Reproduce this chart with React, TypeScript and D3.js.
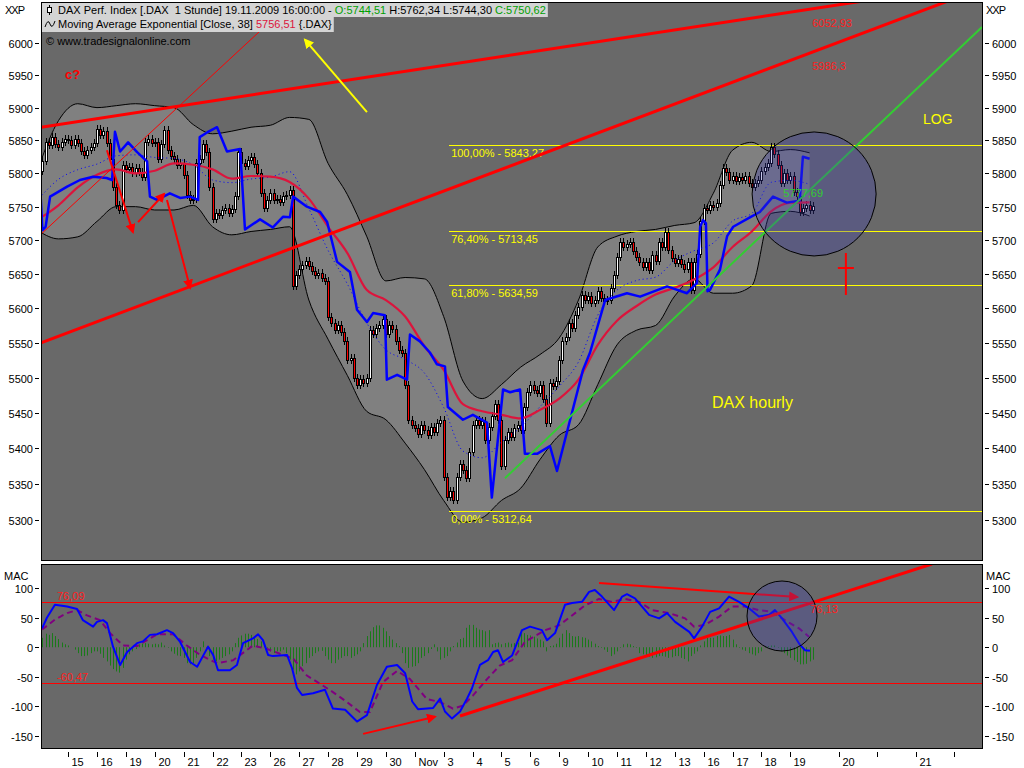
import React, { useLayoutEffect, useRef, useState } from 'react';
import * as d3 from 'd3';

// hourly closes of the DAX, 9 bars a day (9:00-17:00); first row starts 14 Oct 10:00
const firstOpen = 5803;
const closes = [
  5818, 5848, 5843, 5855, 5845, 5840, 5848, 5852, // 14 Oct
  5850, 5843, 5852, 5846, 5834, 5828, 5836, 5840, 5846, // 15
  5868, 5858, 5864, 5846, 5822, 5780, 5752, 5745, 5812, // 16
  5806, 5810, 5800, 5808, 5802, 5795, 5848, 5852, 5846, // 19
  5848, 5822, 5845, 5866, 5836, 5826, 5822, 5812, 5815, // 20
  5798, 5768, 5760, 5762, 5815, 5822, 5845, 5833, 5780, // 21
  5732, 5741, 5738, 5745, 5748, 5741, 5747, 5766, 5832, // 22
  5816, 5811, 5820, 5824, 5814, 5800, 5770, 5748, 5760, // 23
  5770, 5760, 5762, 5757, 5766, 5768, 5775, 5632, 5648, // 26
  5658, 5664, 5670, 5662, 5655, 5648, 5652, 5645, 5640, // 27
  5588, 5578, 5568, 5575, 5565, 5552, 5525, 5528, 5500, // 28
  5490, 5498, 5492, 5500, 5568, 5563, 5572, 5576, 5585, // 29
  5562, 5575, 5570, 5552, 5540, 5535, 5490, 5440, 5432, // 30
  5428, 5420, 5432, 5425, 5418, 5430, 5422, 5435, 5440, // 2 Nov
  5360, 5332, 5340, 5328, 5360, 5378, 5370, 5358, 5395, // 3
  5432, 5440, 5432, 5438, 5412, 5430, 5445, 5462, 5440, // 4
  5375, 5412, 5422, 5415, 5428, 5432, 5425, 5458, 5480, // 5
  5490, 5482, 5478, 5490, 5470, 5435, 5492, 5488, 5495, // 6
  5525, 5552, 5558, 5578, 5572, 5590, 5602, 5620, 5612, // 9
  5618, 5608, 5612, 5625, 5615, 5610, 5612, 5630, 5648, // 10
  5675, 5697, 5690, 5695, 5697, 5684, 5675, 5668, 5660, // 11
  5668, 5656, 5678, 5670, 5698, 5690, 5712, 5686, 5674, // 12
  5666, 5672, 5665, 5658, 5668, 5626, 5668, 5680, 5728, // 13
  5748, 5745, 5752, 5750, 5756, 5782, 5808, 5802, 5790, // 16
  5796, 5788, 5795, 5790, 5796, 5786, 5780, 5785, 5790, // 17
  5803, 5810, 5816, 5840, 5830, 5812, 5786, 5800, 5790, // 18
  5796, 5772, 5766, 5742, 5748, 5752, 5744.51, 5750.62, // 19
];

const dayLabels = ['15', '16', '19', '20', '21', '22', '23', '26', '27', '28', '29', '30', 'Nov',
  '3', '4', '5', '6', '9', '10', '11', '12', '13', '16', '17', '18', '19'];
// beyond the last bar the axis runs on calendar hours
const futureTicks: [number, string][] = [[249, '20'], [261, ''], [273, '21'], [285, '']];

// Bollinger bands and EMA(38), read every 6 bars
const upperBand = [5812, 5880, 5906, 5900, 5903, 5906, 5903, 5900, 5874, 5860, 5864, 5870, 5873, 5885,
  5882, 5815, 5768, 5706, 5640, 5645, 5643, 5588, 5495, 5470, 5490, 5515, 5533, 5557, 5612, 5690,
  5706, 5713, 5716, 5722, 5726, 5770, 5835, 5847, 5833, 5836, 5831];
const lowerBand = [5713, 5702, 5705, 5728, 5750, 5750, 5745, 5745, 5752, 5720, 5708, 5713, 5716, 5720,
  5612, 5555, 5503, 5452, 5440, 5407, 5370, 5327, 5297, 5303, 5327, 5344, 5384, 5418, 5433, 5490,
  5547, 5568, 5575, 5618, 5643, 5622, 5622, 5633, 5740, 5743, 5736];
const ema38 = [5732, 5752, 5779, 5798, 5806, 5800, 5804, 5815, 5813, 5806, 5792, 5796, 5795, 5787,
  5762, 5720, 5681, 5627, 5612, 5588, 5545, 5511, 5462, 5452, 5447, 5442, 5454, 5470, 5497, 5547,
  5582, 5603, 5620, 5630, 5642, 5660, 5690, 5713, 5743, 5756, 5756.51];
const bandStep = 6;

// blue indicator line: [bar, price]
const blueLine: [number, number][] = [
  [0, 5808], [1, 5715], [2, 5720], [3.4, 5765], [8.7, 5780], [12.7, 5790], [16.8, 5795], [21, 5793],
  [22.7, 5790], [23.6, 5863], [25.2, 5833], [27.7, 5847], [30.5, 5832], [33.6, 5818], [34.5, 5765],
  [36.7, 5760], [40.7, 5770], [43.9, 5763], [47, 5765], [49.5, 5760], [50, 5855], [52.3, 5862],
  [55.4, 5870], [58.5, 5833], [62.6, 5837], [64.1, 5716], [68.8, 5731], [72.8, 5719], [76, 5735],
  [78.1, 5734], [79.1, 5765], [83.4, 5750], [87.5, 5742], [89.7, 5727], [92.8, 5668], [96.8, 5653],
  [99, 5598], [102.1, 5580], [104, 5593], [107.7, 5590], [108.3, 5497], [111.5, 5504], [114.6, 5497],
  [115.5, 5562], [118.6, 5552], [121.7, 5536], [123.9, 5519], [126.4, 5516], [127.3, 5458], [132, 5440],
  [135.1, 5447], [139.5, 5436], [141, 5331], [144.5, 5483], [146.7, 5479], [149.8, 5483], [151.3, 5392],
  [155.1, 5392], [159.1, 5403], [161.3, 5368], [165.4, 5440], [169.4, 5511], [171.6, 5536], [176.3, 5612],
  [183.1, 5622], [187.2, 5617], [195.6, 5632], [201.8, 5622], [204.9, 5637], [205.9, 5720], [206.8, 5730],
  [207.7, 5725], [208.2, 5625], [209, 5627], [212.1, 5657], [214.3, 5706], [216.2, 5720], [221.4, 5734],
  [224.5, 5742], [228.6, 5765], [232.9, 5756], [236.9, 5759], [237.9, 5825], [240, 5822],
];

const fibLevels: [string, number][] = [
  ['100,00% - 5843,27', 5843.27], ['76,40% - 5713,45', 5713.45],
  ['61,80% - 5634,59', 5634.59], ['0,00% - 5312,64', 5312.64],
];
const fibStart = 127.7;

// MACD panel: [bar, value]
const macdLine: [number, number][] = [
  [0.9, 32], [2.4, 50], [4.9, 72], [8.7, 69], [11.8, 65], [13.6, 46], [16.8, 35], [18, 43], [19.9, 46],
  [21.1, 41], [23, 1], [25.2, -30], [27.4, -8], [30.5, 7], [32.3, 10], [34.5, 21], [36.7, 22], [39.8, 29],
  [41.7, 24], [43.9, 9], [47, -25], [49.2, -33], [51, -15], [52.6, 1], [54.2, -13], [55.7, -39], [59.4, -39],
  [61.6, -30], [63.5, 7], [66.6, 15], [68.2, 22], [69.7, 12], [71.3, -13], [72.8, -15], [77.2, -13],
  [78.8, -36], [80.3, -69], [81.9, -81], [85.3, -78], [89, -72], [91.5, -104], [95.3, -106], [99, -126],
  [102.1, -115], [105.2, -64], [108.3, -33], [111.5, -30], [114, -44], [116.2, -92], [118, -105],
  [122.7, -103], [124.9, -87], [126.4, -109], [128.6, -121], [131.1, -109], [133.3, -87], [134.8, -70],
  [137.3, -30], [139.8, -22], [141.4, -8], [142.9, -5], [144.5, -25], [147.3, -14], [150.4, 29],
  [152.9, 35], [156.6, 29], [158.2, 12], [160.7, 24], [163.8, 72], [166, 75], [169.1, 77], [171.3, 94],
  [173.1, 97], [175.3, 86], [179.1, 63], [181.6, 86], [183.1, 90], [185.6, 83], [190, 55], [193.1, 49],
  [195.6, 58], [198.1, 43], [202.5, 26], [204, 15], [206.5, 35], [209, 60], [211.8, 66], [214.9, 86],
  [218, 77], [221.1, 66], [224.2, 52], [227.4, 55], [229.2, 63], [231.4, 49], [234.5, 26], [237, 4],
  [238.6, -5], [240.1, -6],
];
const signalLine: [number, number][] = [
  [0.9, 30], [4.9, 47], [8.7, 58], [11.8, 63], [14.9, 54], [18.9, 46], [22.1, 24], [26.1, 3], [30.5, 2],
  [36.7, 22], [41.7, 22], [46, 3], [50.1, -13], [55.4, -27], [60.4, -22], [66.6, 3], [71, -3], [75, -11],
  [79.1, -19], [83.4, -48], [87.5, -62], [91.5, -76], [95.9, -93], [99.9, -110], [103, -110], [107.1, -59],
  [111.5, -40], [115.5, -54], [120.8, -88], [124.9, -93], [128.9, -104], [132, -99], [135.1, -82],
  [139.5, -54], [143.5, -31], [147.3, -22], [151.3, 9], [157.6, 29], [161.9, 37], [166, 54], [170, 71],
  [174.4, 82], [178.4, 77], [182.5, 82], [186.9, 77], [190.9, 63], [196.2, 58], [201.2, 49], [204, 35],
  [207.4, 38], [211.8, 52], [215.8, 69], [219.9, 69], [224.2, 63], [228.3, 60], [232.3, 46],
  [236.7, 32], [239.8, 18],
];
// histogram, one value per bar from bar 0
const histogram = [
  7, 16, 23, 21, 24, 19, 14, 8, 5,
  3, 0, -4, -10, -15, -15, -14, -10, -7,
  -7, -11, -18, -24, -31, -37, -41, -43, -35,
  -21, -12, -7, -3, 5, 6, 7, 6, 5,
  6, 5, 8, 3, -1, -7, -11, -14, -15,
  -18, -27, -29, -27, -18, -7, 10, -1, -15,
  -21, -24, -21, -18, -15, -12, -7, 7, 16,
  20, 23, 23, 21, 19, 14, 10, 6, -1,
  -7, -10, -7, -7, -4, -10, -21, -38, -46,
  -41, -32, -27, -18, -15, -10, -7, -6, -15,
  -21, -27, -27, -21, -18, -15, -15, -18, -15,
  -12, -7, 7, 19, 27, 34, 37, 37, 33,
  27, 19, 13, 7, 2, -10, -27, -35, -33,
  -32, -27, -18, -15, -10, -3, 5, -7, -21,
  -18, -15, -7, 2, 8, 14, 16, 33, 38,
  38, 33, 30, 29, 27, 29, 5, 7, 8,
  5, 7, 8, 6, 7, 8, 24, 24, 21,
  20, 18, 15, 13, 10, -7, 2, 3, 6,
  16, 23, 29, 24, 19, 18, 19, 17, 16,
  13, 10, 6, 2, -1, -4, -8, -15, -12,
  -7, -1, 5, 6, 5, 2, -1, -10, -12,
  -15, -16, -18, -17, -15, -15, -16, -18, -17,
  -15, -15, -18, -20, -24, -15, -11, -7, 3,
  10, 16, 16, 16, 19, 20, 19, 19, 21,
  13, 5, -1, -4, -6, -10, -12, -14, -10,
  -7, -1, 2, 3, 3, -1, -7, -10, -14,
  -18, -22, -25, -29, -29, -28, -24, -21,
];
const macdBands = [76.09, -60.47];

// drawn annotations, in [bar, price] / [bar, macd]
const redTrends: [number, number, number, number][] = [[0.56, 5870, 258.2, 6067], [0.56, 5550, 283.7, 6067]];
const thinTrend: [number, number, number, number] = [0.56, 5709, 79.1, 6067];
const greenTrend: [number, number, number, number] = [145.1, 5358, 293.7, 6025];
const redArrows: [number, number, number, number][] = [
  [21.1, 5835, 29.2, 5712], [30.8, 5727, 38.9, 5769], [39.8, 5760, 47.0, 5630],
];
const yellowArrow: [number, number, number, number] = [102.1, 5893, 82.8, 6005];
const macdTrend: [number, number, number, number] = [131.1, -116.6, 278.1, 141.2];
const macdArrows: [number, number, number, number][] = [[100.9, -146.9, 123.3, -118], [174.4, 109, 236.1, 85.2]];

const priceTicks = d3.range(5300, 6001, 50);
const macdTicks = [100, 50, 0, -50, -100, -150];

const FONT = "'Liberation Sans', Arial, sans-serif";
const BG = '#696969';

export default function App() {
  const l1 = useRef<SVGTextElement>(null);
  const l2 = useRef<SVGTextElement>(null);
  const [boxW, setBoxW] = useState<[number, number]>([480, 270]);
  useLayoutEffect(() => {
    if (l1.current && l2.current) {
      setBoxW([l1.current.getComputedTextLength() + 18, l2.current.getComputedTextLength() + 18]);
    }
  }, []);

  const L = 41, R = 982, T = 2, B = 560, MT = 564, MB = 748;
  const x = d3.scaleLinear().domain([0.56, 293.7]).range([L, R]);
  const y = d3.scaleLog().domain([5300, 6000]).range([520, 43]);
  const ym = d3.scaleLinear().domain([-150, 100]).range([735.7, 588.3]);

  const px = (s: number) => Math.round(x(s));

  const bandData = upperBand.map((u, i) => ({ s: i * bandStep, u, l: lowerBand[i], e: ema38[i] }));
  const bandArea = d3.area<typeof bandData[0]>().x(d => x(d.s)).y0(d => y(d.l)).y1(d => y(d.u)).curve(d3.curveMonotoneX);
  const upperPath = d3.line<typeof bandData[0]>().x(d => x(d.s)).y(d => y(d.u)).curve(d3.curveMonotoneX);
  const lowerPath = d3.line<typeof bandData[0]>().x(d => x(d.s)).y(d => y(d.l)).curve(d3.curveMonotoneX);
  const midPath = d3.line<typeof bandData[0]>().x(d => x(d.s)).y(d => y((d.u + d.l) / 2)).curve(d3.curveMonotoneX);
  const emaPath = d3.line<typeof bandData[0]>().x(d => x(d.s)).y(d => y(d.e)).curve(d3.curveMonotoneX);
  const pLine = d3.line<[number, number]>().x(d => x(d[0])).y(d => y(d[1]));
  const mLine = d3.line<[number, number]>().x(d => x(d[0])).y(d => ym(d[1]));

  const seg = (a: [number, number, number, number], sy: (v: number) => number) =>
    ({ x1: x(a[0]), y1: sy(a[1]), x2: x(a[2]), y2: sy(a[3]) });

  const candles = closes.map((c, i) => {
    const s = i + 1;
    const o = i === 0 ? firstOpen : closes[i - 1];
    const top = Math.round(y(Math.max(o, c)));
    const bot = Math.max(top + 1, Math.round(y(Math.min(o, c))));
    return { s, up: c >= o, top, bot, cx: px(s) };
  });

  const dayTicks: [number, string][] = dayLabels.map((d, k) => [9 * (k + 1), d]);
  const allTicks = [...dayTicks, ...futureTicks];

  return (
    <>
      <style>{'body{margin:0;background:#fff}'}</style>
      <svg width={1024} height={768} style={{ display: 'block' }} fontFamily={FONT} fontSize={11}>
        <defs>
          <clipPath id="mainClip"><rect x={L} y={T} width={R - L} height={B - T} /></clipPath>
          <clipPath id="macdClip"><rect x={L} y={MT} width={R - L} height={MB - MT} /></clipPath>
          <marker id="ahRed" viewBox="0 0 10 10" refX="8" refY="5" markerWidth="5" markerHeight="5" orient="auto">
            <path d="M0,0 L10,5 L0,10 z" fill="#ff0000" />
          </marker>
          <marker id="ahYel" viewBox="0 0 10 10" refX="8" refY="5" markerWidth="5" markerHeight="5" orient="auto">
            <path d="M0,0 L10,5 L0,10 z" fill="#ffff00" />
          </marker>
        </defs>

        {/* main panel */}
        <rect x={L} y={T} width={R - L} height={B - T} fill={BG} />
        <g clipPath="url(#mainClip)">
          <path d={bandArea(bandData) ?? ''} fill="#808080" />
          <path d={upperPath(bandData) ?? ''} fill="none" stroke="#000" strokeWidth={1} />
          <path d={lowerPath(bandData) ?? ''} fill="none" stroke="#000" strokeWidth={1} />

          {fibLevels.map(([lab, v]) => (
            <g key={lab}>
              <line x1={x(fibStart)} x2={R} y1={Math.round(y(v)) + 0.5} y2={Math.round(y(v)) + 0.5}
                stroke="#ffff00" strokeWidth={1} shapeRendering="crispEdges" />
              <text x={x(fibStart) + 2} y={Math.round(y(v)) + 12} fill="#ffff00">{lab}</text>
            </g>
          ))}

          {candles.map(c => (
            <g key={c.s} shapeRendering="crispEdges">
              <line x1={c.cx + 0.5} x2={c.cx + 0.5} y1={c.top - 4} y2={c.bot + 4} stroke="#000" />
              <rect x={c.cx - 0.5} y={c.top + 0.5} width={2} height={c.bot - c.top}
                fill={c.up ? '#ffffff' : '#ff0000'} stroke="#000" strokeWidth={1} />
            </g>
          ))}

          <path d={midPath(bandData) ?? ''} fill="none" stroke="#0000ff" strokeWidth={1} strokeDasharray="1,3" />
          <path d={emaPath(bandData) ?? ''} fill="none" stroke="#dc143c" strokeWidth={2.2} />
          <path d={pLine(blueLine) ?? ''} fill="none" stroke="#0000ff" strokeWidth={2.5} strokeLinejoin="round" />

          <line {...seg(thinTrend, y)} stroke="#ff0000" strokeWidth={1} />
          {redTrends.map((t, i) => <line key={i} {...seg(t, y)} stroke="#ff0000" strokeWidth={3} />)}
          <line {...seg(greenTrend, y)} stroke="#33cc33" strokeWidth={2} />
          {redArrows.map((a, i) => (
            <line key={i} {...seg(a, y)} stroke="#ff0000" strokeWidth={2} markerEnd="url(#ahRed)" />
          ))}
          <line {...seg(yellowArrow, y)} stroke="#ffff00" strokeWidth={2} markerEnd="url(#ahYel)" />

          <circle cx={x(241.4)} cy={y(5769)} r={62} fill="#3c3cb4" fillOpacity={0.3} stroke="#000" strokeWidth={1} />
          <g stroke="#ff0000" strokeWidth={2}>
            <line x1={x(251.3)} x2={x(251.3)} y1={y(5659) - 15} y2={y(5659) + 27} />
            <line x1={x(251.3) - 8} x2={x(251.3) + 8} y1={y(5659)} y2={y(5659)} />
          </g>

          <text x={x(231.8)} y={y(5777.69) + 9} fill="#33cc33">5777,69</text>
          <text x={x(240.8)} y={y(6052.93) + 18} fill="#ff2020">6052,93</text>
          <text x={x(240.8)} y={y(5986.3) + 18} fill="#ff2020">5986,3</text>
          <text x={65} y={79} fill="#ff0000" fontSize={13} fontWeight="bold">c?</text>
          <text x={923} y={124} fill="#ffff00" fontSize={14}>LOG</text>
          <text x={712} y={408} fill="#ffff00" fontSize={16}>DAX hourly</text>
        </g>

        {/* legend */}
        <rect x={42} y={3} width={boxW[0]} height={14} fill="#d4d4d4" />
        <rect x={42} y={17} width={boxW[1]} height={15} fill="#d4d4d4" />
        <line x1={49.5} x2={49.5} y1={5} y2={15} stroke="#000" />
        <rect x={47.5} y={7.5} width={4} height={5} fill="#fff" stroke="#000" />
        <path d="M45,27 q3,-9 5,-3 t5,-3" fill="none" stroke="#000" />
        <text ref={l1} x={58} y={14} fill="#000" style={{ whiteSpace: 'pre' }}>
          DAX Perf. Index [.DAX  1 Stunde] 19.11.2009 16:00:00 - <tspan fill="#00a000">O:5744,51</tspan> H:5762,34 L:5744,30 <tspan fill="#00a000">C:5750,62</tspan>
        </text>
        <text ref={l2} x={58} y={28} fill="#000" style={{ whiteSpace: 'pre' }}>
          Moving Average Exponential [Close, 38] <tspan fill="#dc143c">5756,51</tspan> {'{.DAX}'}
        </text>
        <text x={46} y={45} fill="#000">© www.tradesignalonline.com</text>

        <rect x={L + 0.5} y={T + 0.5} width={R - L} height={B - T} fill="none" stroke="#000" />

        {/* price axes */}
        <text x={5} y={14} letterSpacing={-1}>XXP</text>
        <text x={986} y={14} letterSpacing={-1}>XXP</text>
        {priceTicks.map(t => {
          const ty = Math.round(y(t)) + 0.5;
          return (
            <g key={t}>
              <line x1={35} x2={39} y1={ty} y2={ty} stroke="#000" />
              <text x={33} y={ty + 4} textAnchor="end">{t}</text>
              <line x1={985} x2={989} y1={ty} y2={ty} stroke="#000" />
              <text x={992} y={ty + 4}>{t}</text>
            </g>
          );
        })}

        {/* MACD panel */}
        <rect x={L} y={MT} width={R - L} height={MB - MT} fill={BG} />
        <g clipPath="url(#macdClip)">
          {histogram.map((v, i) => (
            <line key={i} x1={px(i) + 0.5} x2={px(i) + 0.5} y1={ym(0)} y2={ym(v)} stroke="#1a7a1a" strokeWidth={1} />
          ))}
          {macdBands.map(b => (
            <line key={b} x1={L} x2={R} y1={Math.round(ym(b)) + 0.5} y2={Math.round(ym(b)) + 0.5}
              stroke="#ff0000" strokeWidth={1} shapeRendering="crispEdges" />
          ))}
          <text x={57} y={Math.round(ym(76.09)) - 2} fill="#ff2020">76,09</text>
          <text x={57} y={Math.round(ym(-60.47)) - 2} fill="#ff2020">-60,47</text>
          <path d={mLine(signalLine) ?? ''} fill="none" stroke="#800080" strokeWidth={2} strokeDasharray="6,4" />
          <path d={mLine(macdLine) ?? ''} fill="none" stroke="#0000ff" strokeWidth={2} strokeLinejoin="round" />
          <line {...seg(macdTrend, ym)} stroke="#ff0000" strokeWidth={3} />
          {macdArrows.map((a, i) => (
            <line key={i} {...seg(a, ym)} stroke="#ff0000" strokeWidth={2} markerEnd="url(#ahRed)" />
          ))}
          <circle cx={x(231.4)} cy={ym(53)} r={35} fill="#3c3cb4" fillOpacity={0.3} stroke="#000" />
          <text x={x(240.2)} y={ym(76.13) + 11} fill="#ff2020">76,13</text>
        </g>
        <rect x={L + 0.5} y={MT + 0.5} width={R - L} height={MB - MT} fill="none" stroke="#000" />

        <text x={4} y={580}>MAC</text>
        <text x={986} y={580}>MAC</text>
        {macdTicks.map(t => {
          const ty = Math.round(ym(t)) + 0.5;
          return (
            <g key={t}>
              <line x1={35} x2={39} y1={ty} y2={ty} stroke="#000" />
              <text x={33} y={ty + 4} textAnchor="end">{t}</text>
              <line x1={985} x2={989} y1={ty} y2={ty} stroke="#000" />
              <text x={992} y={ty + 4}>{t}</text>
            </g>
          );
        })}

        {/* date axis */}
        {allTicks.map(([s, lab]) => {
          const tx = px(s) + 0.5;
          return (
            <g key={s}>
              <line x1={tx} x2={tx} y1={752} y2={757} stroke="#000" />
              <text x={tx + 3} y={766}>{lab}</text>
            </g>
          );
        })}
      </svg>
    </>
  );
}
